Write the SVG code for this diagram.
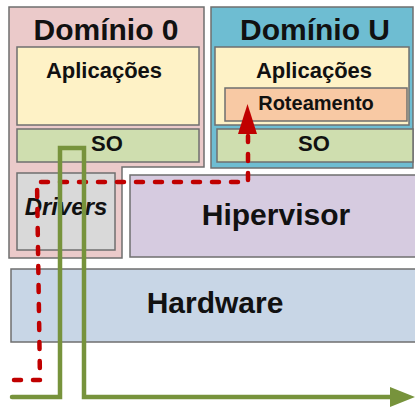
<svg xmlns="http://www.w3.org/2000/svg" width="415" height="407" viewBox="0 0 415 407">
  <style>
    .box { stroke: #6f6f6f; stroke-width: 1.5; }
    .lbl { font-family: "Liberation Sans", Arial, sans-serif; font-weight: bold; fill: #111; text-anchor: middle; }
    .big { font-size: 30px; }
    .mid { font-size: 22px; }
    .data { fill: none; stroke: #77933C; stroke-width: 4.5; stroke-linejoin: miter; stroke-linecap: round; }
    .ctrl { fill: none; stroke: #C00000; stroke-width: 4.5; stroke-dasharray: 7 12; stroke-linecap: round; }
  </style>
  <rect width="415" height="407" fill="#ffffff"/>

  <!-- privileged domain with its driver area -->
  <g id="dominio0">
    <path class="box" d="M9,7 H204 V167 H122 V258 H9 Z" fill="#EBCACA"/>
    <text class="lbl big" x="106" y="40">Domínio 0</text>
  </g>
  <g id="aplicacoes0">
    <rect class="box" x="17" y="47" width="182" height="78" fill="#FEF2C6"/>
    <text class="lbl mid" x="104" y="78">Aplicações</text>
  </g>
  <g id="so0">
    <rect class="box" x="17" y="129" width="182" height="33" fill="#CFDEAF"/>
    <text class="lbl mid" x="107" y="151">SO</text>
  </g>
  <g id="drivers">
    <rect class="box" x="17" y="173" width="98" height="77" fill="#D9D9D9"/>
    <text class="lbl" x="66" y="215" font-size="24" font-style="italic">Drivers</text>
  </g>

  <!-- unprivileged guest domain -->
  <g id="dominioU">
    <rect class="box" x="211" y="7" width="202" height="161" fill="#6EBDD2"/>
    <text class="lbl big" x="315" y="40">Domínio U</text>
  </g>
  <g id="aplicacoesU">
    <rect class="box" x="215" y="47" width="194" height="78" fill="#FEF2C6"/>
    <text class="lbl mid" x="314" y="78">Aplicações</text>
  </g>
  <g id="roteamento">
    <rect class="box" x="225" y="88" width="182" height="33" fill="#F8C9A4"/>
    <text class="lbl" x="316" y="110" font-size="20">Roteamento</text>
  </g>
  <g id="soU">
    <rect class="box" x="217" y="129" width="196" height="33" fill="#CFDEAF"/>
    <text class="lbl mid" x="314" y="151">SO</text>
  </g>

  <!-- hypervisor and hardware layers -->
  <g id="hipervisor">
    <rect class="box" x="130" y="175" width="287" height="82" fill="#D6CBE0"/>
    <text class="lbl big" x="276" y="225">Hipervisor</text>
  </g>
  <g id="hardware">
    <rect class="box" x="11" y="269" width="405" height="73" fill="#C8D6E6"/>
    <text class="lbl big" x="215" y="313">Hardware</text>
  </g>

  <!-- data and control paths -->
  <g id="conectores">
    <polyline class="ctrl" points="14,380 40,380 37,182 248,182 248,136"/>
    <polygon points="238,134 247.5,104 257,134" fill="#C00000"/>
    <polyline class="data" points="12,397 60,397 60,148 84,148 84,397 392,397"/>
    <polygon points="390,387 415,397 390,407" fill="#77933C"/>
  </g>
</svg>
